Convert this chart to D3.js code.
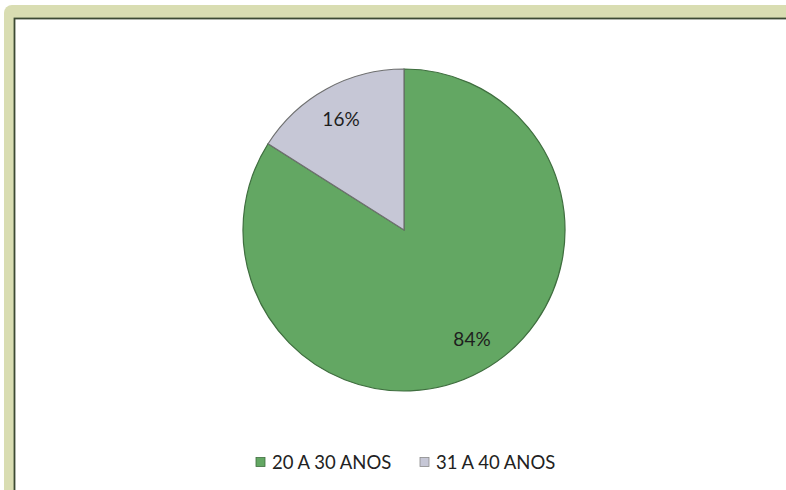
<!DOCTYPE html>
<html>
<head>
<meta charset="utf-8">
<script src="https://cdn.jsdelivr.net/npm/d3@7/dist/d3.min.js"></script>
<style>
  html, body { margin: 0; padding: 0; background: #ffffff; }
  svg { display: block; }
</style>
</head>
<body>
<svg id="chart" width="786" height="490"></svg>
<script>
// Age groups and their shares (%)
const categories = ["20 A 30 ANOS", "31 A 40 ANOS"];
const values = [84, 16];
const colors = ["#63a763", "#c6c7d6"];
const labelText = ["84%", "16%"];

const svg = d3.select("#chart");
const W = 786, H = 490;

// Outer frame: soft olive band with a dark inner rule
svg.append("rect")
  .attr("x", 4).attr("y", 5).attr("width", W + 20).attr("height", H + 20)
  .attr("rx", 8).attr("fill", "#d9ddb2");
svg.append("rect")
  .attr("x", 14.5).attr("y", 18.5).attr("width", W + 20).attr("height", H + 20)
  .attr("fill", "#ffffff").attr("stroke", "#3d4a34").attr("stroke-width", 1.8);

// Pie
const cx = 404, cy = 230, r = 161;
const pie = d3.pie().sort(null).value(d => d)
  .startAngle(0).endAngle(2 * Math.PI);
const arcs = pie(values);
const arc = d3.arc().innerRadius(0).outerRadius(r);

const g = svg.append("g").attr("transform", `translate(${cx},${cy})`);

g.selectAll("path.slice")
  .data(arcs)
  .join("path")
  .attr("class", "slice")
  .attr("d", arc)
  .attr("fill", (d, i) => colors[i])
  .attr("stroke", (d, i) => i === 0 ? "#3f6e3f" : "#6f7070")
  .attr("stroke-width", 1.2);

// Percentage labels
const labelPos = [[68, 108], [-63, -112]];
g.selectAll("text.pct")
  .data(arcs)
  .join("text")
  .attr("class", "pct")
  .attr("x", (d, i) => labelPos[i][0])
  .attr("y", (d, i) => labelPos[i][1])
  .attr("text-anchor", "middle")
  .attr("dominant-baseline", "central")
  .attr("font-family", "Lato, 'Open Sans', sans-serif")
  .attr("font-size", 19)
  .attr("fill", "#1e1e1e")
  .text((d, i) => labelText[i]);

// Legend
const legend = svg.append("g").attr("transform", "translate(256,462)");
const legendX = [0, 164];
categories.forEach((c, i) => {
  const item = legend.append("g").attr("transform", `translate(${legendX[i]},0)`);
  item.append("rect")
    .attr("x", 0).attr("y", -4.5).attr("width", 9).attr("height", 9)
    .attr("fill", colors[i])
    .attr("stroke", i === 0 ? "#3f6e3f" : "#8a8a8a").attr("stroke-width", 0.8);
  item.append("text")
    .attr("x", 16).attr("y", 0)
    .attr("dominant-baseline", "central")
    .attr("font-family", "Lato, 'Open Sans', sans-serif")
    .attr("font-size", 18.5)
    .attr("fill", "#222")
    .text(c);
});
</script>
</body>
</html>
